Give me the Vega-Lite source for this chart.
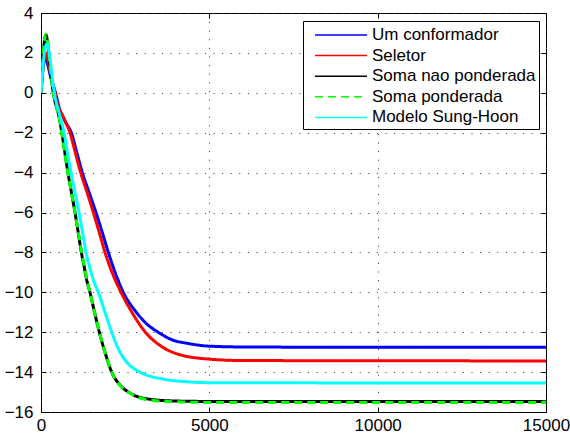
{
  "$schema": "https://vega.github.io/schema/vega-lite/v6.json",
  "width": 505,
  "height": 399,
  "autosize": {"type": "none"},
  "padding": {"left": 41, "top": 13, "right": 24, "bottom": 24},
  "background": "white",
  "config": {
    "view": {"stroke": "black", "strokeWidth": 1},
    "font": "Liberation Sans",
    "axis": {
      "labelFont": "Liberation Sans",
      "labelFontSize": 17,
      "labelColor": "black",
      "domainColor": "black",
      "tickColor": "black",
      "gridColor": "#333",
      "gridDash": [1, 7.6],
      "gridWidth": 1,
      "gridOpacity": 1,
      "title": null
    }
  },
  "data": {
    "values": [
      {"s": "Um conformador", "x": 0, "y": 0},
      {"s": "Um conformador", "x": 40, "y": 0.8},
      {"s": "Um conformador", "x": 80, "y": 1.5},
      {"s": "Um conformador", "x": 119, "y": 1.8},
      {"s": "Um conformador", "x": 200, "y": 1.4},
      {"s": "Um conformador", "x": 300, "y": 0.7},
      {"s": "Um conformador", "x": 430, "y": 0},
      {"s": "Um conformador", "x": 570, "y": -0.9},
      {"s": "Um conformador", "x": 640, "y": -1.15},
      {"s": "Um conformador", "x": 740, "y": -1.5},
      {"s": "Um conformador", "x": 900, "y": -2.0},
      {"s": "Um conformador", "x": 1065, "y": -3.0},
      {"s": "Um conformador", "x": 1227, "y": -4.0},
      {"s": "Um conformador", "x": 1430, "y": -5.0},
      {"s": "Um conformador", "x": 1633, "y": -6.0},
      {"s": "Um conformador", "x": 1820, "y": -7.0},
      {"s": "Um conformador", "x": 2000, "y": -8.0},
      {"s": "Um conformador", "x": 2200, "y": -9.0},
      {"s": "Um conformador", "x": 2445, "y": -10.0},
      {"s": "Um conformador", "x": 2830, "y": -11.0},
      {"s": "Um conformador", "x": 3150, "y": -11.6},
      {"s": "Um conformador", "x": 3480, "y": -12.0},
      {"s": "Um conformador", "x": 3850, "y": -12.35},
      {"s": "Um conformador", "x": 4425, "y": -12.58},
      {"s": "Um conformador", "x": 5000, "y": -12.7},
      {"s": "Um conformador", "x": 6000, "y": -12.74},
      {"s": "Um conformador", "x": 8000, "y": -12.75},
      {"s": "Um conformador", "x": 15000, "y": -12.75},
      {"s": "Seletor", "x": 0, "y": 0},
      {"s": "Seletor", "x": 40, "y": 1.0},
      {"s": "Seletor", "x": 80, "y": 1.7},
      {"s": "Seletor", "x": 150, "y": 2.0},
      {"s": "Seletor", "x": 230, "y": 1.4},
      {"s": "Seletor", "x": 320, "y": 0.7},
      {"s": "Seletor", "x": 416, "y": 0},
      {"s": "Seletor", "x": 530, "y": -0.8},
      {"s": "Seletor", "x": 610, "y": -1.05},
      {"s": "Seletor", "x": 710, "y": -1.4},
      {"s": "Seletor", "x": 861, "y": -2.0},
      {"s": "Seletor", "x": 1020, "y": -3.0},
      {"s": "Seletor", "x": 1178, "y": -4.0},
      {"s": "Seletor", "x": 1370, "y": -5.0},
      {"s": "Seletor", "x": 1554, "y": -6.0},
      {"s": "Seletor", "x": 1730, "y": -7.0},
      {"s": "Seletor", "x": 1901, "y": -8.0},
      {"s": "Seletor", "x": 2110, "y": -9.0},
      {"s": "Seletor", "x": 2376, "y": -10.0},
      {"s": "Seletor", "x": 2700, "y": -11.0},
      {"s": "Seletor", "x": 3100, "y": -12.0},
      {"s": "Seletor", "x": 3584, "y": -12.72},
      {"s": "Seletor", "x": 4128, "y": -13.13},
      {"s": "Seletor", "x": 5000, "y": -13.35},
      {"s": "Seletor", "x": 6000, "y": -13.42},
      {"s": "Seletor", "x": 15000, "y": -13.44},
      {"s": "Soma nao ponderada", "x": 0, "y": 0},
      {"s": "Soma nao ponderada", "x": 40, "y": 1.2},
      {"s": "Soma nao ponderada", "x": 90, "y": 2.4},
      {"s": "Soma nao ponderada", "x": 148, "y": 2.9},
      {"s": "Soma nao ponderada", "x": 220, "y": 2.2},
      {"s": "Soma nao ponderada", "x": 290, "y": 1.0},
      {"s": "Soma nao ponderada", "x": 366, "y": 0},
      {"s": "Soma nao ponderada", "x": 440, "y": -0.6},
      {"s": "Soma nao ponderada", "x": 515, "y": -1.03},
      {"s": "Soma nao ponderada", "x": 620, "y": -2.0},
      {"s": "Soma nao ponderada", "x": 710, "y": -3.0},
      {"s": "Soma nao ponderada", "x": 800, "y": -4.0},
      {"s": "Soma nao ponderada", "x": 905, "y": -5.0},
      {"s": "Soma nao ponderada", "x": 1010, "y": -6.0},
      {"s": "Soma nao ponderada", "x": 1105, "y": -7.0},
      {"s": "Soma nao ponderada", "x": 1200, "y": -8.0},
      {"s": "Soma nao ponderada", "x": 1280, "y": -8.7},
      {"s": "Soma nao ponderada", "x": 1360, "y": -9.4},
      {"s": "Soma nao ponderada", "x": 1455, "y": -10.0},
      {"s": "Soma nao ponderada", "x": 1590, "y": -11.0},
      {"s": "Soma nao ponderada", "x": 1733, "y": -12.0},
      {"s": "Soma nao ponderada", "x": 1900, "y": -13.0},
      {"s": "Soma nao ponderada", "x": 2100, "y": -14.0},
      {"s": "Soma nao ponderada", "x": 2350, "y": -14.65},
      {"s": "Soma nao ponderada", "x": 2643, "y": -15.05},
      {"s": "Soma nao ponderada", "x": 3237, "y": -15.36},
      {"s": "Soma nao ponderada", "x": 4000, "y": -15.45},
      {"s": "Soma nao ponderada", "x": 5000, "y": -15.47},
      {"s": "Soma nao ponderada", "x": 15000, "y": -15.48},
      {"s": "Soma ponderada", "x": 0, "y": 0},
      {"s": "Soma ponderada", "x": 40, "y": 1.2},
      {"s": "Soma ponderada", "x": 90, "y": 2.45},
      {"s": "Soma ponderada", "x": 148, "y": 2.94},
      {"s": "Soma ponderada", "x": 220, "y": 2.2},
      {"s": "Soma ponderada", "x": 290, "y": 1.0},
      {"s": "Soma ponderada", "x": 366, "y": 0},
      {"s": "Soma ponderada", "x": 440, "y": -0.6},
      {"s": "Soma ponderada", "x": 515, "y": -1.03},
      {"s": "Soma ponderada", "x": 614, "y": -2.0},
      {"s": "Soma ponderada", "x": 705, "y": -3.0},
      {"s": "Soma ponderada", "x": 795, "y": -4.0},
      {"s": "Soma ponderada", "x": 905, "y": -5.0},
      {"s": "Soma ponderada", "x": 1010, "y": -6.0},
      {"s": "Soma ponderada", "x": 1110, "y": -7.0},
      {"s": "Soma ponderada", "x": 1208, "y": -8.0},
      {"s": "Soma ponderada", "x": 1277, "y": -8.62},
      {"s": "Soma ponderada", "x": 1360, "y": -9.35},
      {"s": "Soma ponderada", "x": 1455, "y": -10.0},
      {"s": "Soma ponderada", "x": 1590, "y": -11.0},
      {"s": "Soma ponderada", "x": 1733, "y": -12.0},
      {"s": "Soma ponderada", "x": 1900, "y": -13.0},
      {"s": "Soma ponderada", "x": 2100, "y": -14.0},
      {"s": "Soma ponderada", "x": 2350, "y": -14.67},
      {"s": "Soma ponderada", "x": 2643, "y": -15.06},
      {"s": "Soma ponderada", "x": 3237, "y": -15.4},
      {"s": "Soma ponderada", "x": 4200, "y": -15.5},
      {"s": "Soma ponderada", "x": 5000, "y": -15.52},
      {"s": "Soma ponderada", "x": 15000, "y": -15.53},
      {"s": "Modelo Sung-Hoon", "x": 0, "y": 0},
      {"s": "Modelo Sung-Hoon", "x": 40, "y": 0.9},
      {"s": "Modelo Sung-Hoon", "x": 100, "y": 2.0},
      {"s": "Modelo Sung-Hoon", "x": 178, "y": 2.45},
      {"s": "Modelo Sung-Hoon", "x": 260, "y": 1.8},
      {"s": "Modelo Sung-Hoon", "x": 330, "y": 0.8},
      {"s": "Modelo Sung-Hoon", "x": 396, "y": 0},
      {"s": "Modelo Sung-Hoon", "x": 535, "y": -1.0},
      {"s": "Modelo Sung-Hoon", "x": 683, "y": -2.0},
      {"s": "Modelo Sung-Hoon", "x": 785, "y": -3.0},
      {"s": "Modelo Sung-Hoon", "x": 891, "y": -4.0},
      {"s": "Modelo Sung-Hoon", "x": 1010, "y": -5.0},
      {"s": "Modelo Sung-Hoon", "x": 1129, "y": -6.0},
      {"s": "Modelo Sung-Hoon", "x": 1235, "y": -7.0},
      {"s": "Modelo Sung-Hoon", "x": 1337, "y": -8.0},
      {"s": "Modelo Sung-Hoon", "x": 1440, "y": -8.7},
      {"s": "Modelo Sung-Hoon", "x": 1560, "y": -9.4},
      {"s": "Modelo Sung-Hoon", "x": 1702, "y": -10.0},
      {"s": "Modelo Sung-Hoon", "x": 1900, "y": -11.0},
      {"s": "Modelo Sung-Hoon", "x": 2100, "y": -12.0},
      {"s": "Modelo Sung-Hoon", "x": 2346, "y": -13.0},
      {"s": "Modelo Sung-Hoon", "x": 2600, "y": -13.6},
      {"s": "Modelo Sung-Hoon", "x": 2940, "y": -14.0},
      {"s": "Modelo Sung-Hoon", "x": 3623, "y": -14.35},
      {"s": "Modelo Sung-Hoon", "x": 4300, "y": -14.48},
      {"s": "Modelo Sung-Hoon", "x": 5000, "y": -14.53},
      {"s": "Modelo Sung-Hoon", "x": 15000, "y": -14.55}
    ]
  },
  "resolve": {"axis": {"x": "independent", "y": "independent"}},
  "layer": [
    {
      "mark": {"type": "line", "strokeWidth": 3, "clip": true, "interpolate": "monotone"},
      "encoding": {
        "x": {
          "field": "x", "type": "quantitative",
          "scale": {"domain": [0, 15000], "nice": false, "zero": false},
          "axis": {"values": [0, 5000, 10000, 15000], "format": "d", "tickSize": -5, "labelPadding": 10, "grid": true, "domain": false, "labelFlush": false}
        },
        "y": {
          "field": "y", "type": "quantitative",
          "scale": {"domain": [-16, 4], "nice": false, "zero": false},
          "axis": {"values": [-16, -14, -12, -10, -8, -6, -4, -2, 0, 2, 4], "tickSize": -5, "labelPadding": 13, "grid": true, "domain": false}
        },
        "color": {
          "field": "s", "type": "nominal", "sort": null,
          "scale": {
            "domain": ["Um conformador", "Seletor", "Soma nao ponderada", "Soma ponderada", "Modelo Sung-Hoon"],
            "range": ["#0000ff", "#ff0000", "#000000", "#00ff00", "#00ffff"]
          },
          "legend": {
            "title": null,
            "orient": "none",
            "legendX": 262,
            "legendY": 8,
            "padding": 3,
            "rowPadding": 1.6,
            "strokeColor": "black",
            "fillColor": "white",
            "cornerRadius": 0,
            "symbolType": "M-0.2,0H5",
            "symbolSize": 400,
            "symbolStrokeWidth": 1.5,
            "labelOffset": 44,
            "labelFontSize": 17,
            "labelFont": "Liberation Sans",
            "labelColor": "black",
            "labelLimit": 300
          }
        },
        "strokeDash": {
          "field": "s", "type": "nominal", "sort": null,
          "scale": {
            "domain": ["Um conformador", "Seletor", "Soma nao ponderada", "Soma ponderada", "Modelo Sung-Hoon"],
            "range": [[1, 0], [1, 0], [1, 0], [8, 5], [1, 0]]
          },
          "legend": null
        }
      }
    },
    {
      "mark": {"type": "point", "opacity": 0},
      "encoding": {
        "x": {
          "field": "x", "type": "quantitative",
          "axis": {"orient": "top", "values": [0, 5000, 10000, 15000], "tickSize": -5, "labels": false, "grid": false, "domain": false}
        },
        "y": {
          "field": "y", "type": "quantitative",
          "axis": {"orient": "right", "values": [-16, -14, -12, -10, -8, -6, -4, -2, 0, 2, 4], "tickSize": -5, "labels": false, "grid": false, "domain": false}
        }
      }
    }
  ]
}
